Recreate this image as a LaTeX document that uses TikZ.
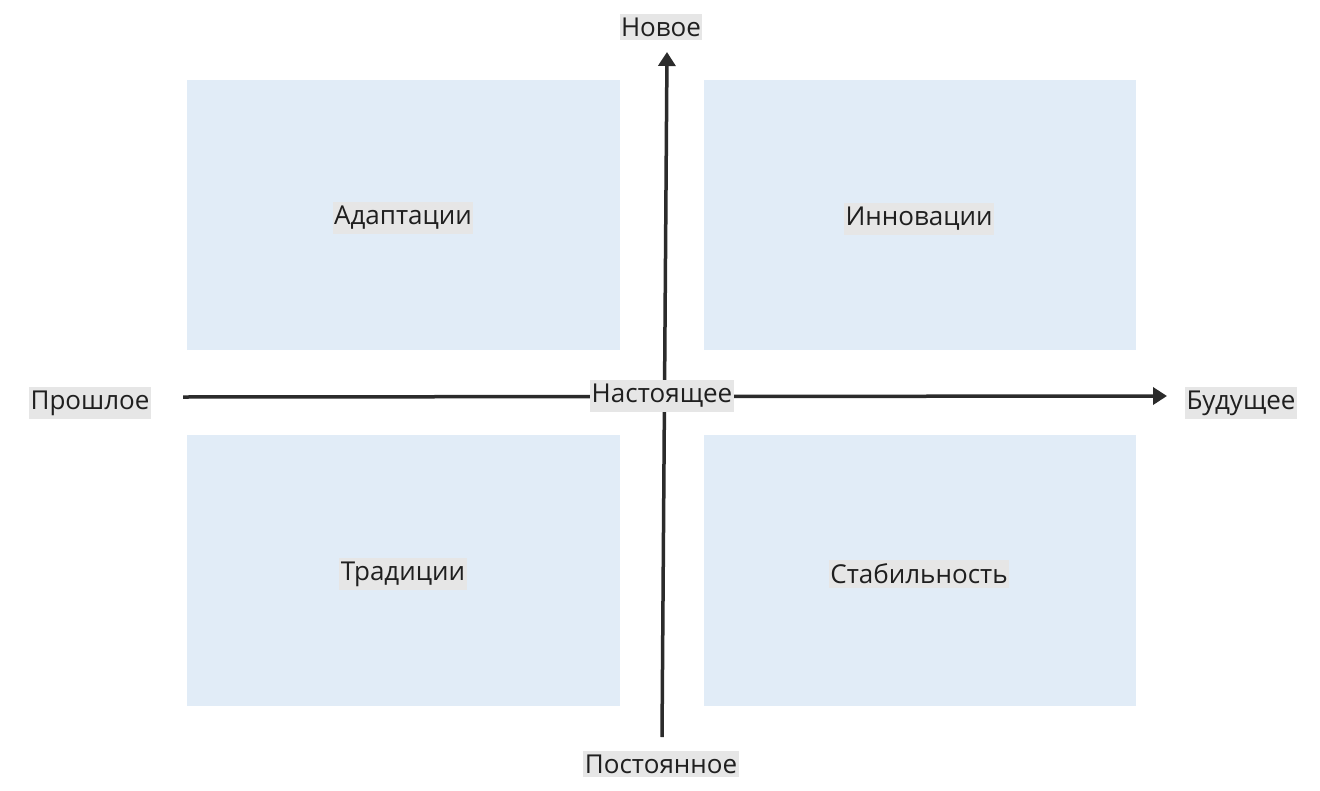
\documentclass[tikz,border=0pt]{standalone}
\usepackage{fontspec}
\setmainfont{Open Sans}
\usetikzlibrary{arrows.meta}
\definecolor{quad}{HTML}{E1ECF7}
\definecolor{lbl}{HTML}{E6E6E6}
\definecolor{axis}{HTML}{2B2B2B}
\tikzset{
  quadbox/.style={fill=quad, draw=none},
  lab/.style={fill=lbl, inner xsep=1.5pt, inner ysep=4pt, font=\fontsize{26}{30}\selectfont, text=black!88},
  axisline/.style={draw=axis, line width=3.5pt, -{Triangle[length=14pt,width=17pt]}},
}
\begin{document}
\begin{tikzpicture}[x=1pt,y=-1pt]
\fill[white] (0,0) rectangle (1320,790);
\useasboundingbox (0,0) rectangle (1320,790);
% quadrants
\fill[quadbox] (187,80) rectangle (620,350);
\fill[quadbox] (704,80) rectangle (1136,350);
\fill[quadbox] (187,435) rectangle (620,706);
\fill[quadbox] (704,435) rectangle (1136,706);
% axes coordinates
\coordinate (vstart) at (662,737);
\coordinate (vend) at (667,52);
\coordinate (hstart) at (183,397);
\coordinate (hend) at (1167,396);
\draw[axisline] (vstart) -- (vend);
\draw[axisline] (hstart) -- (hend);
% labels
\node[lab] (new) at (661,27) {Новое};
\node[lab] (past) at (90,403) {Прошлое};
\node[lab] (future) at (1241,403) {Будущее};
\node[lab] (present) at (662,396) {Настоящее};
\node[lab] (const) at (661,764) {Постоянное};
\node[lab] (adapt) at (403,218) {Адаптации};
\node[lab] (innov) at (919,219) {Инновации};
\node[lab] (trad) at (403,574) {Традиции};
\node[lab] (stab) at (919,574) {Стабильность};
\end{tikzpicture}
\end{document}
